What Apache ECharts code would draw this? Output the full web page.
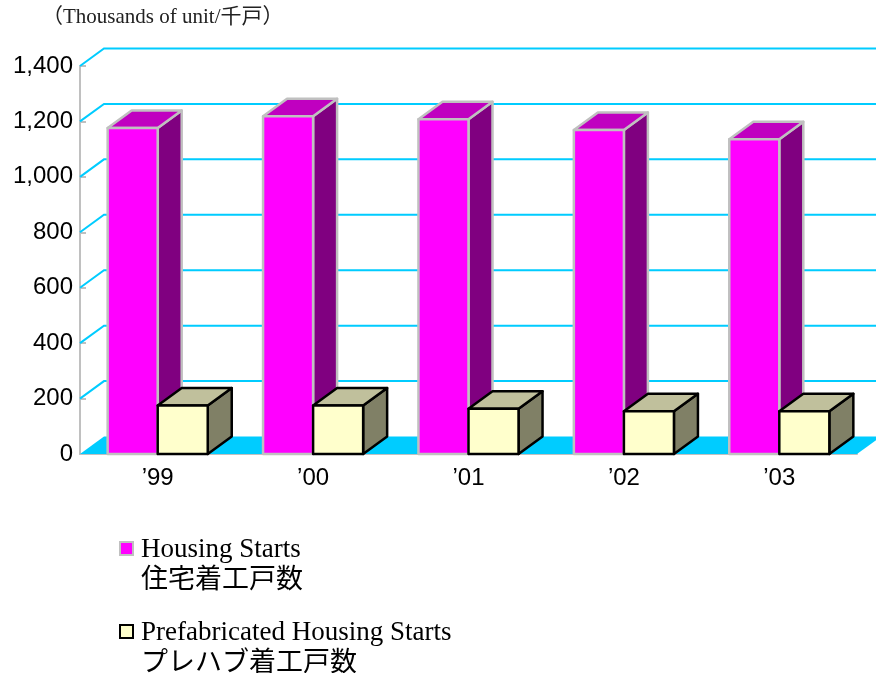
<!DOCTYPE html>
<html>
<head>
<meta charset="utf-8">
<title>Housing Starts</title>
<script src="https://cdn.jsdelivr.net/npm/echarts@6/dist/echarts.min.js"></script>
<style>
    html, body { margin: 0; padding: 0; background: #fff; }
    #chart { width: 876px; height: 673px; }
</style>
</head>
<body>
<div id="chart"></div>
<script>
// data (thousands of units)
const years = ['’99', '’00', '’01', '’02', '’03'];
const housingStarts = [1176, 1219, 1208, 1169, 1136];
const prefabStarts = [175, 175, 163, 154, 154];
const yTicks = [0, 200, 400, 600, 800, 1000, 1200, 1400];

const DX = 24, DY = 17.5;      // depth of the fake 3d
const BAR_RATIO = 0.322;       // bar width / category band
const SERIF = '"Liberation Serif", "Noto Sans CJK JP", serif';

// back wall grid lines + floor, one item per tick
const renderWall = (params, api) => {
    const cs = params.coordSys;
    const v = api.value(1);
    const y = api.coord([0, v])[1];
    const x0 = cs.x, x1 = cs.x + cs.width;
    if (v === 0) {
        return {
            type: 'polygon',
            shape: { points: [[x0, y], [x1, y], [x1 + DX, y - DY], [x0 + DX, y - DY]] },
            style: { fill: '#00ccff' }
        };
    }
    return {
        type: 'polyline',
        shape: { points: [[x0, y], [x0 + DX, y - DY], [x1 + DX, y - DY]] },
        style: { stroke: '#00ccff', lineWidth: 2, fill: null }
    };
};

// side: -1 = left of the category centre, 1 = right
const makeBar = (side, c) => (params, api) => {
    const idx = api.value(0);
    const top = api.coord([idx, api.value(1)]);
    const base = api.coord([idx, 0]);
    const w = api.size([1, 0])[0] * BAR_RATIO;
    const xl = side < 0 ? top[0] - w : top[0];
    const xr = xl + w;
    const yt = top[1], yb = base[1];
    const st = { stroke: c.edge, lineWidth: c.lw, lineJoin: 'round' };
    return {
        type: 'group',
        children: [
            {
                type: 'polygon',
                shape: { points: [[xr, yb], [xr + DX, yb - DY], [xr + DX, yt - DY], [xr, yt]] },
                style: Object.assign({ fill: c.side }, st)
            },
            {
                type: 'polygon',
                shape: { points: [[xl, yt], [xr, yt], [xr + DX, yt - DY], [xl + DX, yt - DY]] },
                style: Object.assign({ fill: c.top }, st)
            },
            {
                type: 'rect',
                shape: { x: xl, y: yt, width: w, height: yb - yt },
                style: Object.assign({ fill: c.front }, st)
            }
        ]
    };
};

const housingColors = { front: '#ff00ff', top: '#c000c0', side: '#800080', edge: '#c0c0c0', lw: 2.5 };
const prefabColors = { front: '#ffffcc', top: '#c0c09c', side: '#808066', edge: '#000000', lw: 2.5 };

const chart = echarts.init(document.getElementById('chart'));
chart.setOption({
    animation: false,
    grid: { left: 80, right: 19, top: 66, bottom: 219 },
    xAxis: {
        type: 'category',
        data: years,
        axisLine: { lineStyle: { color: '#c0c0c0', width: 2 } },
        axisTick: { inside: true, length: 6, lineStyle: { color: '#c0c0c0', width: 2 } },
        axisLabel: { color: '#000', fontSize: 24, fontFamily: '"Liberation Sans", Arial, sans-serif', margin: 12 }
    },
    yAxis: {
        type: 'value',
        min: 0,
        max: 1400,
        interval: 200,
        splitLine: { show: false },
        axisLine: { show: true, lineStyle: { color: '#c0c0c0', width: 2 } },
        axisTick: { show: true, inside: true, length: 6, lineStyle: { color: '#c0c0c0', width: 2 } },
        axisLabel: {
            color: '#000', fontSize: 24, fontFamily: '"Liberation Sans", Arial, sans-serif', margin: 7,
            formatter: v => v.toLocaleString('en-US')
        }
    },
    series: [
        {
            name: 'wall',
            type: 'custom',
            z: 1,
            renderItem: renderWall,
            encode: { x: 0, y: 1 },
            data: yTicks.map(v => [0, v])
        },
        {
            name: 'Housing Starts',
            type: 'custom',
            z: 2,
            renderItem: makeBar(-1, housingColors),
            encode: { x: 0, y: 1 },
            data: housingStarts.map((v, i) => [i, v])
        },
        {
            name: 'Prefabricated Housing Starts',
            type: 'custom',
            z: 3,
            renderItem: makeBar(1, prefabColors),
            encode: { x: 0, y: 1 },
            data: prefabStarts.map((v, i) => [i, v])
        }
    ],
    graphic: [
        {
            type: 'text', left: 42, top: 7,
            style: { text: '（Thousands of unit/千戸）', fill: '#222', font: '21px ' + SERIF }
        },
        {
            type: 'rect', left: 119, top: 541,
            shape: { width: 13, height: 13 },
            style: { fill: '#ff00ff', stroke: '#c0c0c0', lineWidth: 2 }
        },
        {
            type: 'text', left: 141, top: 534,
            style: { text: 'Housing Starts\n住宅着工戸数', fill: '#000', font: '27px ' + SERIF, lineHeight: 31 }
        },
        {
            type: 'rect', left: 119, top: 624,
            shape: { width: 13, height: 13 },
            style: { fill: '#ffffcc', stroke: '#000', lineWidth: 2 }
        },
        {
            type: 'text', left: 141, top: 617,
            style: { text: 'Prefabricated Housing Starts\nプレハブ着工戸数', fill: '#000', font: '27px ' + SERIF, lineHeight: 31 }
        }
    ]
});
</script>
</body>
</html>
